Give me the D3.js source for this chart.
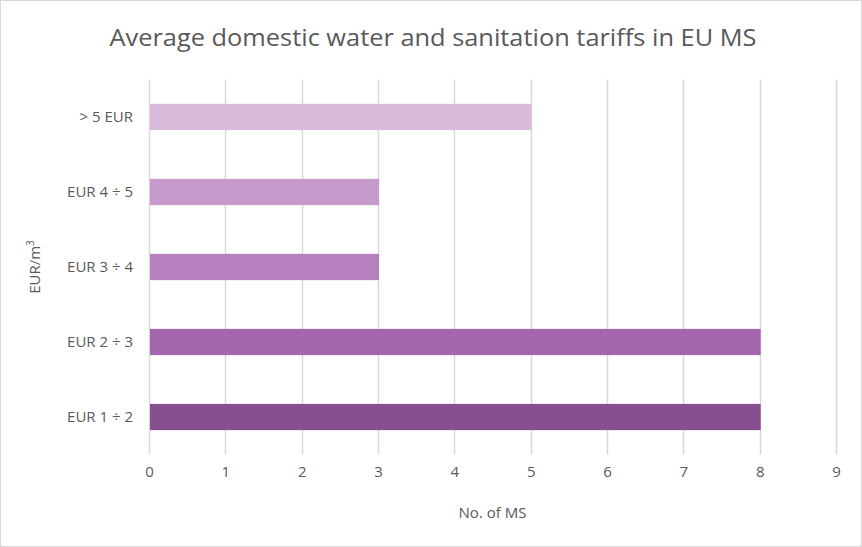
<!DOCTYPE html>
<html>
<head>
<meta charset="utf-8">
<script src="https://cdn.jsdelivr.net/npm/d3@7"></script>
<style>
  body { margin: 0; background: #fff; }
  svg text { font-family: "Open Sans", sans-serif; fill: #595959; }
</style>
</head>
<body>
<svg></svg>
<script>
const svgWidth = 862
const svgHeight = 547
const margins = { top: 79.5, bottom: 92.5, left: 149, right: 26 }
const plotWidth = svgWidth - margins.left - margins.right
const plotHeight = svgHeight - margins.top - margins.bottom

// data, top to bottom
const categories = ["> 5 EUR", "EUR 4 ÷ 5", "EUR 3 ÷ 4", "EUR 2 ÷ 3", "EUR 1 ÷ 2"]
const counts = [5, 3, 3, 8, 8]
const barColors = ["#d8bbdb", "#c69bcc", "#b77fbd", "#a466ad", "#874f8f"]
const xTicks = [0, 1, 2, 3, 4, 5, 6, 7, 8, 9]

const svg = d3.select("svg")
  .attr("width", svgWidth)
  .attr("height", svgHeight)

svg.append("rect")
  .attr("x", 0.5).attr("y", 0.5)
  .attr("width", svgWidth - 1).attr("height", svgHeight - 1)
  .attr("fill", "#fff")
  .attr("stroke", "#d9d9d9")

svg.append("text")
  .text("Average domestic water and sanitation tariffs in EU MS")
  .attr("x", 433)
  .attr("y", 46)
  .attr("text-anchor", "middle")
  .attr("font-size", 24)
  .attr("textLength", 647)
  .attr("lengthAdjust", "spacingAndGlyphs")

const xScale = d3.scaleLinear()
  .domain([0, 9])
  .range([0, plotWidth])

const yScale = d3.scaleBand()
  .domain(categories)
  .range([0, plotHeight])
  .paddingInner(0.65)
  .paddingOuter(0.325)

const g = svg.append("g")
  .attr("transform", `translate(${margins.left},${margins.top})`)

// gridlines
g.selectAll(".grid")
  .data(xTicks)
  .enter()
  .append("line")
  .attr("x1", d => Math.round(xScale(d)) + 0.5)
  .attr("x2", d => Math.round(xScale(d)) + 0.5)
  .attr("y1", 0)
  .attr("y2", plotHeight)
  .attr("stroke", "#d9d9d9")
  .attr("stroke-width", 1.5)

g.selectAll(".bar")
  .data(counts)
  .enter()
  .append("rect")
  .attr("x", xScale(0) + 1)
  .attr("y", (d, i) => yScale(categories[i]))
  .attr("width", d => xScale(d) - xScale(0))
  .attr("height", yScale.bandwidth())
  .attr("fill", (d, i) => barColors[i])

// x axis
const xAxis = g.append("g")
  .attr("transform", `translate(0,${plotHeight})`)
  .call(d3.axisBottom(xScale).tickValues(xTicks).tickSize(0).tickPadding(12))
xAxis.select(".domain").remove()
xAxis.selectAll("text")
  .attr("font-size", 15)
  .attr("font-family", "Open Sans, sans-serif")
  .attr("fill", "#595959")

// y axis
const yAxis = g.append("g")
  .call(d3.axisLeft(yScale).tickSize(0).tickPadding(16))
yAxis.select(".domain").remove()
yAxis.selectAll("text")
  .attr("font-size", 15)
  .attr("font-family", "Open Sans, sans-serif")
  .attr("fill", "#595959")

svg.append("text")
  .text("No. of MS")
  .attr("x", margins.left + plotWidth / 2)
  .attr("y", 518)
  .attr("text-anchor", "middle")
  .attr("font-size", 15)

const yTitle = svg.append("text")
  .attr("transform", `translate(40,${margins.top + plotHeight / 2}) rotate(-90)`)
  .attr("text-anchor", "middle")
  .attr("font-size", 15)
yTitle.append("tspan").text("EUR/m")
yTitle.append("tspan").text("3").attr("font-size", 10).attr("dy", -6)
</script>
</body>
</html>
